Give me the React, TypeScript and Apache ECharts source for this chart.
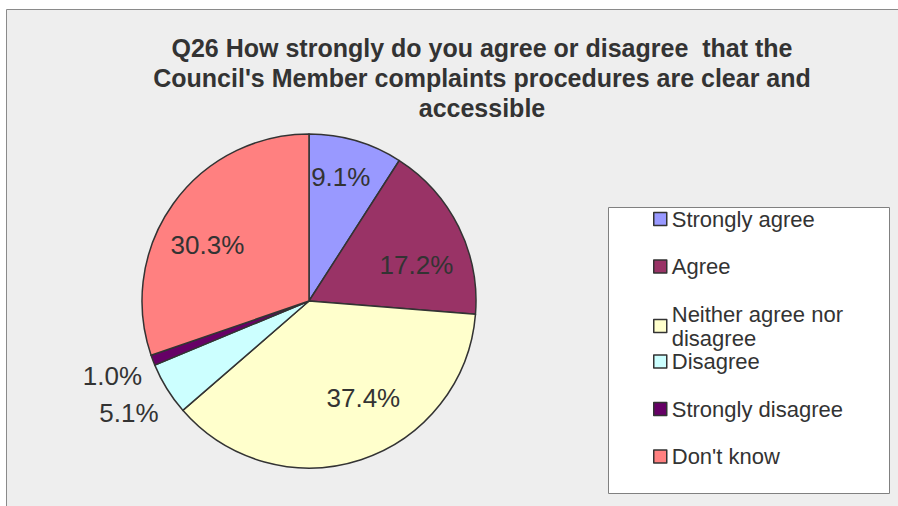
import React, { useEffect, useRef } from "react";
import * as echarts from "echarts";

const titleLines = [
  "Q26 How strongly do you agree or disagree  that the",
  "Council's Member complaints procedures are clear and",
  "accessible",
];
const categories = [
  "Strongly agree",
  "Agree",
  "Neither agree nor disagree",
  "Disagree",
  "Strongly disagree",
  "Don't know",
];
const values = [9.1, 17.2, 37.4, 5.1, 1.0, 30.3];
const colors = ["#9999FF", "#993366", "#FFFFCC", "#CCFFFF", "#660066", "#FF8080"];
const outsideLabelIndices = [3, 4];
const legendLabels: Record<string, string> = {
  "Neither agree nor disagree": "Neither agree nor\ndisagree",
};

const FONT = "'Liberation Sans', Arial, sans-serif";
const TEXT = "#333333";

export default function App() {
  const ref = useRef<HTMLDivElement>(null);
  useEffect(() => {
    if (!ref.current) return;
    const chart = echarts.init(ref.current, undefined, { renderer: "svg" });
    const R = 167;
    const pct = (p: any) => `${Number(p.value).toFixed(1)}%`;
    const legendTop = 207;
    const rowStep = 47.5;
    // fine placement of the data labels, mimicking the original layout
    const labelNudge: [number, number][] = [
      [-2, -9],
      [0, 17],
      [17, -17],
      [0, 22],
      [-2, 14],
      [-4, 14],
    ];
    const nudge = (p: any) => {
      const d = labelNudge[p.dataIndex] || [0, 0];
      return { dx: d[0], dy: d[1] };
    };

    const option: any = {
      animation: false,
      backgroundColor: "#ffffff",
      textStyle: { fontFamily: FONT },
      graphic: [
        {
          type: "rect",
          shape: { x: 6.5, y: 9.5, width: 900, height: 510 },
          style: { fill: "#eeeeee", stroke: "#8a8a8a", lineWidth: 1 },
          z: -10,
        },
        {
          type: "rect",
          shape: { x: 608.5, y: 207.5, width: 281, height: 286 },
          style: { fill: "#ffffff", stroke: "#808080", lineWidth: 1 },
          z: -5,
        },
      ],
      title: {
        text: titleLines.join("\n"),
        left: 477,
        top: 28,
        textAlign: "center",
        textStyle: {
          fontFamily: FONT,
          fontSize: 25,
          fontWeight: "bold",
          color: "#333333",
          lineHeight: 30,
        },
      },
      legend: categories.map((name, i) => ({
        data: [name],
        orient: "vertical",
        left: 653,
        top: legendTop + i * rowStep,
        padding: 0,
        icon: "rect",
        itemWidth: 13,
        itemHeight: 13,
        selectedMode: false,
        itemStyle: { borderColor: "#333333", borderWidth: 1.5 },
        formatter: (n: string) => legendLabels[n] || n,
        textStyle: { fontFamily: FONT, fontSize: 22, color: TEXT, lineHeight: 24 },
      })),
      series: [
        {
          type: "pie",
          center: [309, 301],
          radius: R,
          startAngle: 90,
          clockwise: true,
          avoidLabelOverlap: false,
          itemStyle: { borderColor: "#333333", borderWidth: 1.5 },
          labelLine: { show: false, length: 4, length2: 0 },
          labelLayout: nudge,
          data: categories.map((name, i) => ({
            name,
            value: values[i],
            itemStyle: { color: colors[i] },
            label: {
              show: outsideLabelIndices.includes(i),
              position: "outside",
              formatter: pct,
              fontFamily: FONT,
              fontSize: 26,
              color: TEXT,
            },
          })),
        },
        {
          type: "pie",
          center: [309, 301],
          radius: [R * 0.45, R * 0.95],
          startAngle: 90,
          clockwise: true,
          silent: true,
          avoidLabelOverlap: false,
          itemStyle: { color: "transparent", borderWidth: 0 },
          labelLine: { show: false },
          labelLayout: nudge,
          data: categories.map((name, i) => ({
            name,
            value: values[i],
            label: {
              show: !outsideLabelIndices.includes(i),
              position: "inside",
              formatter: pct,
              fontFamily: FONT,
              fontSize: 26,
              color: TEXT,
            },
          })),
        },
      ],
    };
    chart.setOption(option);
    return () => chart.dispose();
  }, []);
  return (
    <div
      ref={ref}
      style={{ position: "absolute", left: 0, top: 0, width: 898, height: 506 }}
    />
  );
}
